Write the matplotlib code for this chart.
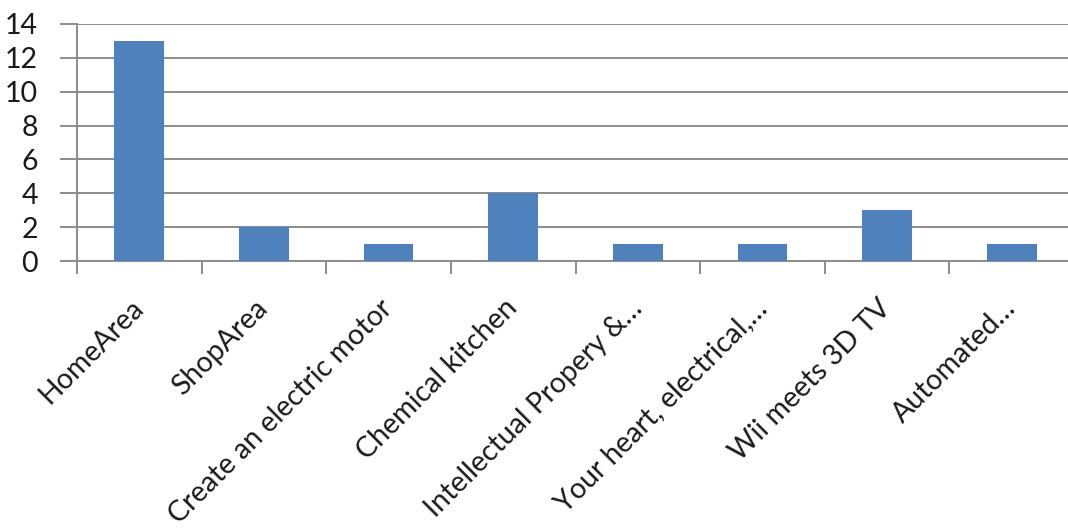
import matplotlib
matplotlib.use("Agg")
import matplotlib.pyplot as plt
import matplotlib.transforms as mtransforms

categories = [
    "HomeArea",
    "ShopArea",
    "Create an electric motor",
    "Chemical kitchen",
    "Intellectual Propery &\u2026",
    "Your heart, electrical,\u2026",
    "Wii meets 3D TV",
    "Automated\u2026",
]
counts = [13, 2, 1, 4, 1, 1, 3, 1]
y_ticks = [0, 2, 4, 6, 8, 10, 12, 14]

plt.rcParams["font.family"] = ["Lato", "DejaVu Sans"]

W, H = 1068, 531
fig = plt.figure(figsize=(W / 100, H / 100), dpi=100)
# plot area in pixel coordinates (left, top, right, bottom)
L, T, R, B = 77, 24, 1074, 261
ax = fig.add_axes([L / W, (H - B) / H, (R - L) / W, (B - T) / H])

x = list(range(len(categories)))
ax.bar(x, counts, width=0.4, color="#4F81BD", zorder=3)

ax.set_xlim(-0.5, len(categories) - 0.5)
ax.set_ylim(0, 14)

grid_color = "#8C8C8C"
ax.set_yticks(y_ticks)
ax.set_yticklabels([str(v) for v in y_ticks])
ax.yaxis.grid(True, color=grid_color, linewidth=1.4, zorder=0)
ax.set_axisbelow(True)

# category boundary ticks
ax.set_xticks([i - 0.5 for i in range(len(categories) + 1)], minor=False)
ax.set_xticklabels([""] * (len(categories) + 1))
ax.set_xticks(x, minor=True)
ax.set_xticklabels(categories, minor=True)
ax.tick_params(axis="x", which="minor", length=0, pad=31, labelsize=20.5,
               labelcolor="#1a1a1a")
ax.tick_params(axis="x", which="major", length=9, width=1.4, color=grid_color,
               direction="out")
ax.tick_params(axis="y", length=12, width=1.4, color=grid_color, pad=16,
               labelsize=20.5, labelcolor="#1a1a1a")

offset = mtransforms.ScaledTranslation(0, 0, fig.dpi_scale_trans)
for lbl in ax.get_xticklabels(minor=True):
    lbl.set_rotation(45)
    lbl.set_rotation_mode("anchor")
    lbl.set_ha("right")
    lbl.set_va("center")
    lbl.set_transform(lbl.get_transform() + offset)

for side in ("top", "right"):
    ax.spines[side].set_visible(False)
for side in ("left", "bottom"):
    ax.spines[side].set_color(grid_color)
    ax.spines[side].set_linewidth(1.4)

fig.savefig("out.png", dpi=100)
